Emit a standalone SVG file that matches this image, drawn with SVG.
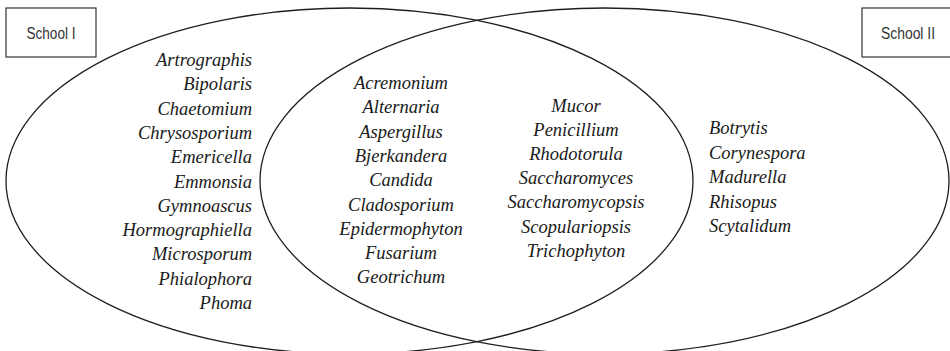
<svg xmlns="http://www.w3.org/2000/svg" width="950" height="351" viewBox="0 0 950 351">
<style>
.ell{fill:none;stroke:#1e1e1e;stroke-width:1.3}
.box{fill:#fff;stroke:#333;stroke-width:1.2}
.lbl{font-family:'Liberation Sans Narrow','Liberation Sans',sans-serif;font-size:16px;fill:#333;text-anchor:middle}
.sp{font-family:'Liberation Serif','Times New Roman','DejaVu Serif',serif;font-style:italic;font-size:18.5px;fill:#1a1a1a}
.r{text-anchor:end}
.m{text-anchor:middle}
.l{text-anchor:start}
</style>
<rect width="950" height="351" fill="#fff"/>
<g id="connectors">
<ellipse id="school1-set" class="ell" cx="349.5" cy="181" rx="343.5" ry="173"/>
<ellipse id="school2-set" class="ell" cx="604.5" cy="181" rx="344.5" ry="173"/>
</g>
<g id="school1">
<rect class="box" x="6" y="8" width="90" height="49"/>
<text class="lbl" x="51" y="39" textLength="49" lengthAdjust="spacingAndGlyphs">School I</text>
</g>
<g id="school2">
<rect class="box" x="862" y="8" width="92" height="49"/>
<text class="lbl" x="908" y="39" textLength="54" lengthAdjust="spacingAndGlyphs">School II</text>
</g>
<g id="only-school1" font-family="Liberation Serif, serif" font-style="italic">
<text class="sp r" x="252" y="66">Artrographis</text>
<text class="sp r" x="252" y="90.3">Bipolaris</text>
<text class="sp r" x="252" y="114.6">Chaetomium</text>
<text class="sp r" x="252" y="138.9">Chrysosporium</text>
<text class="sp r" x="252" y="163.2">Emericella</text>
<text class="sp r" x="252" y="187.5">Emmonsia</text>
<text class="sp r" x="252" y="211.8">Gymnoascus</text>
<text class="sp r" x="252" y="236.1">Hormographiella</text>
<text class="sp r" x="252" y="260.4">Microsporum</text>
<text class="sp r" x="252" y="284.7">Phialophora</text>
<text class="sp r" x="252" y="309">Phoma</text>
</g>
<g id="both-a">
<text class="sp m" x="401" y="89">Acremonium</text>
<text class="sp m" x="401" y="113.3">Alternaria</text>
<text class="sp m" x="401" y="137.6">Aspergillus</text>
<text class="sp m" x="401" y="161.9">Bjerkandera</text>
<text class="sp m" x="401" y="186.2">Candida</text>
<text class="sp m" x="401" y="210.5">Cladosporium</text>
<text class="sp m" x="401" y="234.8">Epidermophyton</text>
<text class="sp m" x="401" y="259.1">Fusarium</text>
<text class="sp m" x="401" y="283.4">Geotrichum</text>
</g>
<g id="both-b">
<text class="sp m" x="576" y="112">Mucor</text>
<text class="sp m" x="576" y="136.1">Penicillium</text>
<text class="sp m" x="576" y="160.2">Rhodotorula</text>
<text class="sp m" x="576" y="184.3">Saccharomyces</text>
<text class="sp m" x="576" y="208.4">Saccharomycopsis</text>
<text class="sp m" x="576" y="232.5">Scopulariopsis</text>
<text class="sp m" x="576" y="256.6">Trichophyton</text>
</g>
<g id="only-school2">
<text class="sp l" x="709" y="134">Botrytis</text>
<text class="sp l" x="709" y="158.5">Corynespora</text>
<text class="sp l" x="709" y="183">Madurella</text>
<text class="sp l" x="709" y="207.5">Rhisopus</text>
<text class="sp l" x="709" y="232">Scytalidum</text>
</g>
</svg>
